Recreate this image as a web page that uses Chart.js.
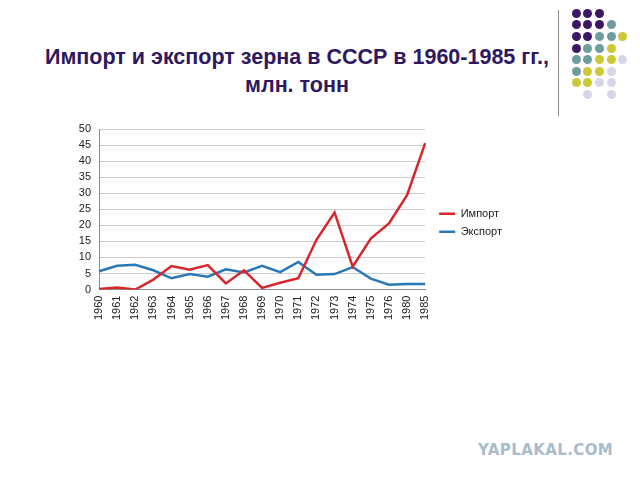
<!DOCTYPE html>
<html>
<head>
<meta charset="utf-8">
<script src="https://cdn.jsdelivr.net/npm/chart.js@4"></script>
<style>
  body { margin: 0; background: #fff; }
  #page { position: relative; width: 640px; height: 480px; overflow: hidden; background: #fff; }
  #title {
    position: absolute; left: 0; top: 43px; width: 594px; text-align: center;
    font-family: "Liberation Sans", Arial, sans-serif; font-weight: bold; font-size: 21.5px;
    line-height: 28px; color: #2e1860;
  }
  #vline { position: absolute; left: 558px; top: 10px; width: 1px; height: 106px; background: #8a8a8a; }
  .dot { position: absolute; width: 9px; height: 9px; border-radius: 50%; }
  #wm {
    position: absolute; left: 478px; top: 441px; font-family: "DejaVu Sans", sans-serif;
    font-weight: bold; font-size: 15px; color: #a8bccd; letter-spacing: 0.4px;
  }
  #chartBox { position: absolute; left: 0; top: 110px; width: 640px; height: 225px; }
</style>
</head>
<body>
<div id="page">
  <div id="title">Импорт и экспорт зерна в СССР в 1960-1985 гг.,<br>млн. тонн</div>
  <div id="vline"></div>
  <div id="dots"></div>
  <div id="wm">YAPLAKAL.COM</div>
  <div id="chartBox"><canvas id="grainChart"></canvas></div>
</div>
<script>
// Данные
const years = ['1960', '1961', '1962', '1963', '1964', '1965', '1966', '1967', '1968',
    '1969', '1970', '1971', '1972', '1973', '1974', '1975', '1976', '1980', '1985'];
const importData = [0.2, 0.6, 0.0, 3.1, 7.3, 6.2, 7.6, 1.9, 6.0, 0.5, 2.1, 3.5, 15.5, 24.0, 7.1, 15.9, 20.6, 29.4, 45.6];
const exportData = [5.7, 7.4, 7.7, 6.0, 3.5, 4.8, 4.0, 6.3, 5.3, 7.4, 5.4, 8.6, 4.6, 4.8, 7.0, 3.4, 1.5, 1.7, 1.7];
const yTicks = [0, 5, 10, 15, 20, 25, 30, 35, 40, 45, 50];

// Декоративные точки в правом верхнем углу
const dotColors = { P: '#3b1863', T: '#6f9c9c', Y: '#cbc935', L: '#d6d6e8' };
const dotRows = ['PPP..', 'PPPT.', 'PPTTY', 'PTTY.', 'TTYYL', 'TYYL.', 'YYLL.', '.L.L.'];

function drawDots() {
    const box = document.getElementById('dots');
    dotRows.forEach((row, r) => {
        row.split('').forEach((c, i) => {
            if (c === '.') return;
            const d = document.createElement('div');
            d.className = 'dot';
            d.style.left = (571.5 + i * 11.7) + 'px';
            d.style.top = (8.8 + r * 11.6) + 'px';
            d.style.background = dotColors[c];
            box.appendChild(d);
        });
    });
}

function initializeChart() {
    const ctx = document.getElementById('grainChart').getContext('2d');
    new Chart(ctx, {
        type: 'line',
        data: {
            labels: years,
            datasets: [{
                label: 'Импорт',
                data: importData,
                borderColor: '#d9252b',
                backgroundColor: '#d9252b',
                borderWidth: 2.5,
                pointRadius: 0,
                tension: 0
            }, {
                label: 'Экспорт',
                data: exportData,
                borderColor: '#2878b5',
                backgroundColor: '#2878b5',
                borderWidth: 2.5,
                pointRadius: 0,
                tension: 0
            }]
        },
        options: {
            responsive: true,
            maintainAspectRatio: false,
            animation: false,
            layout: { padding: { left: 0, right: 128, top: 19, bottom: 13 } },
            plugins: {
                title: { display: false },
                tooltip: { enabled: false },
                legend: {
                    position: 'right',
                    fullSize: false,
                    // пустой заголовок легенды сдвигает подписи вниз
                    title: { display: true, text: ' ', font: { size: 12 }, padding: { top: 0, bottom: 12.6 } },
                    labels: {
                        usePointStyle: true,
                        pointStyle: 'line',
                        pointStyleWidth: 16,
                        boxWidth: 16,
                        padding: 7,
                        color: '#222',
                        font: { family: '"Liberation Sans", Arial, sans-serif', size: 11 }
                    }
                }
            },
            scales: {
                x: {
                    offset: false,
                    grid: { display: false, drawTicks: true, tickLength: 4 },
                    border: { color: '#8c8c8c' },
                    ticks: {
                        autoSkip: false,
                        maxRotation: 90,
                        minRotation: 90,
                        padding: 2,
                        color: '#222',
                        font: { family: '"Liberation Sans", Arial, sans-serif', size: 11 }
                    }
                },
                y: {
                    min: 0,
                    max: 50,
                    afterBuildTicks: s => { s.ticks = yTicks.map(v => ({ value: v })); },
                    afterFit: s => { s.width = 99; },
                    grid: { color: '#cccccc', drawTicks: false },
                    border: { color: '#8c8c8c' },
                    ticks: {
                        autoSkip: false,
                        padding: 8,
                        color: '#222',
                        font: { family: '"Liberation Sans", Arial, sans-serif', size: 11 }
                    }
                },
                // пустая ось справа - отступ между графиком и легендой
                gap: {
                    position: 'right',
                    grid: { display: false },
                    border: { display: false },
                    ticks: { display: false },
                    afterFit: s => { s.width = 7; }
                }
            }
        }
    });
}

document.addEventListener('DOMContentLoaded', function() {
    drawDots();
    initializeChart();
});
</script>
</body>
</html>
